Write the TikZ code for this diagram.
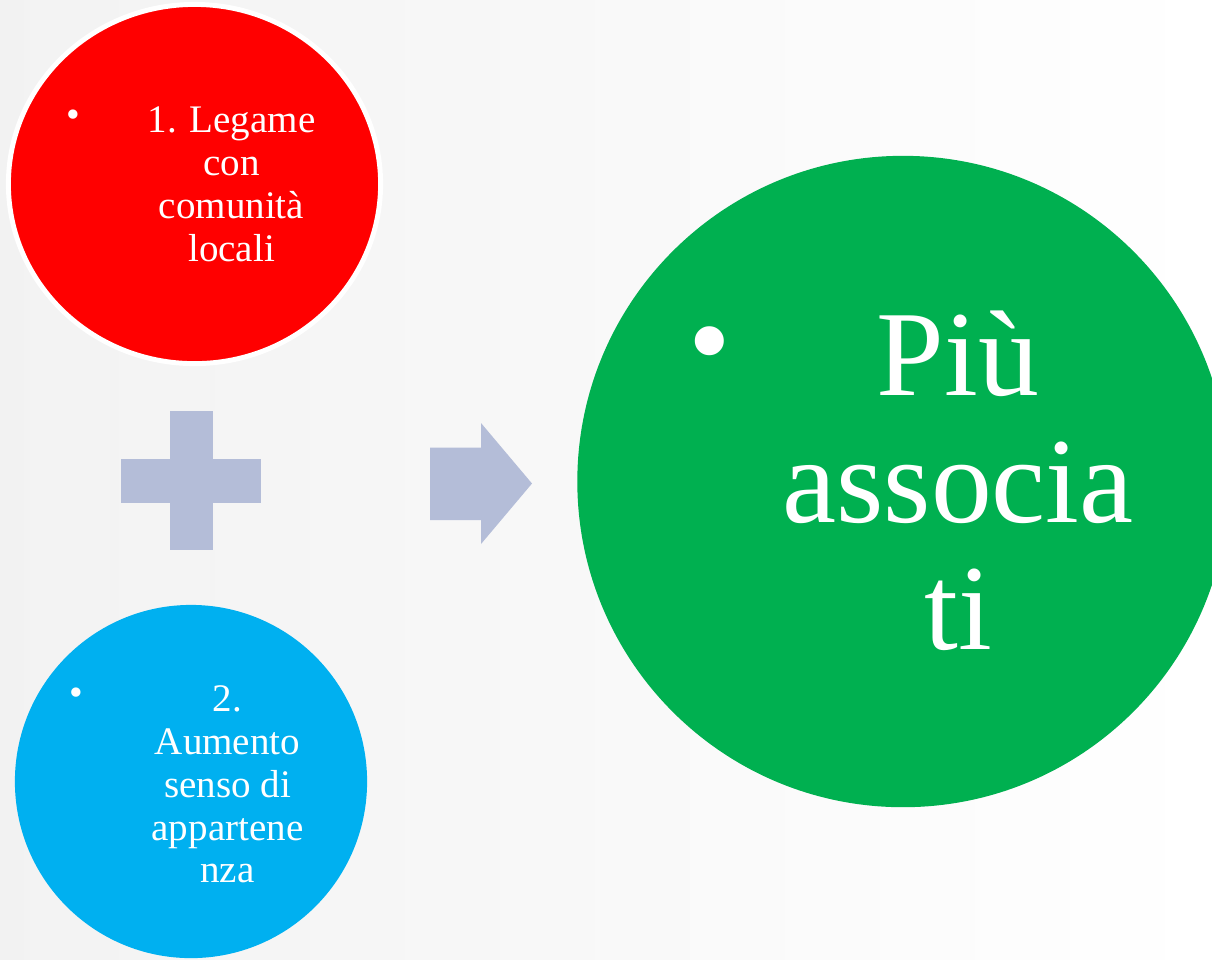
\documentclass[tikz,border=0pt]{standalone}
\usepackage{fontspec}
\setmainfont{Liberation Serif}
\usepackage{xcolor}
\definecolor{color1}{RGB}{255, 0, 0}
\definecolor{color2}{RGB}{0, 176, 240}
\definecolor{color3}{RGB}{0, 176, 80}
\definecolor{color4}{RGB}{180, 189, 216}
\usetikzlibrary{shapes.geometric}

\begin{document}
\begin{tikzpicture}[x=0.01cm, y=-0.01cm,
	bolla/.style={ellipse, inner sep=0pt, draw=none},
	testo/.style={align=center, text=white, inner sep=0pt, font=\fontsize{11.1}{12.2}\selectfont},
	punto/.style={text=white, inner sep=0pt, font=\fontsize{11.1}{12.2}\selectfont},
	grande/.style={font=\fontsize{34.6}{36.1}\selectfont}]
	\shade[left color=black!5, right color=white] (0,0) rectangle (1212,959);
	\useasboundingbox (0,0) rectangle (1212,959);
	\clip (0,0) rectangle (1212,959);
	\node[bolla, fill=color1, draw=white, line width=1.4pt, minimum width=3.72cm, minimum height=3.59cm] (rosso) at (194.5,184) {};
	\node[bolla, fill=color2, minimum width=3.52cm, minimum height=3.53cm] (azzurro) at (191,781.5) {};
	\node[bolla, fill=color3, minimum width=6.51cm, minimum height=6.51cm] (verde) at (903,481.5) {};
	\node[testo] (t1) at (231.5,184) {1. Legame\\con\\comunità\\locali};
	\node[punto] (p1) at (73,119) {•};
	\node[testo] (t2) at (227.5,784.4) {2.\\Aumento\\senso di\\appartene\\nza};
	\node[punto] (p2) at (76,697) {•};
	\node[testo, grande] (t3) at (958,481) {Più\\associa\\ti};
	\node[punto, grande] (p3) at (710,354) {•};
	% segno piu e freccia
	\fill[color4] (170,410.5) rectangle (213,550);
	\fill[color4] (121,458.5) rectangle (261,502.5);
	\fill[color4] (430,447.5) -- (481,447.5) -- (481,423) -- (532,483.5) -- (481,544) -- (481,520) -- (430,520) -- cycle;
\end{tikzpicture}
\end{document}
